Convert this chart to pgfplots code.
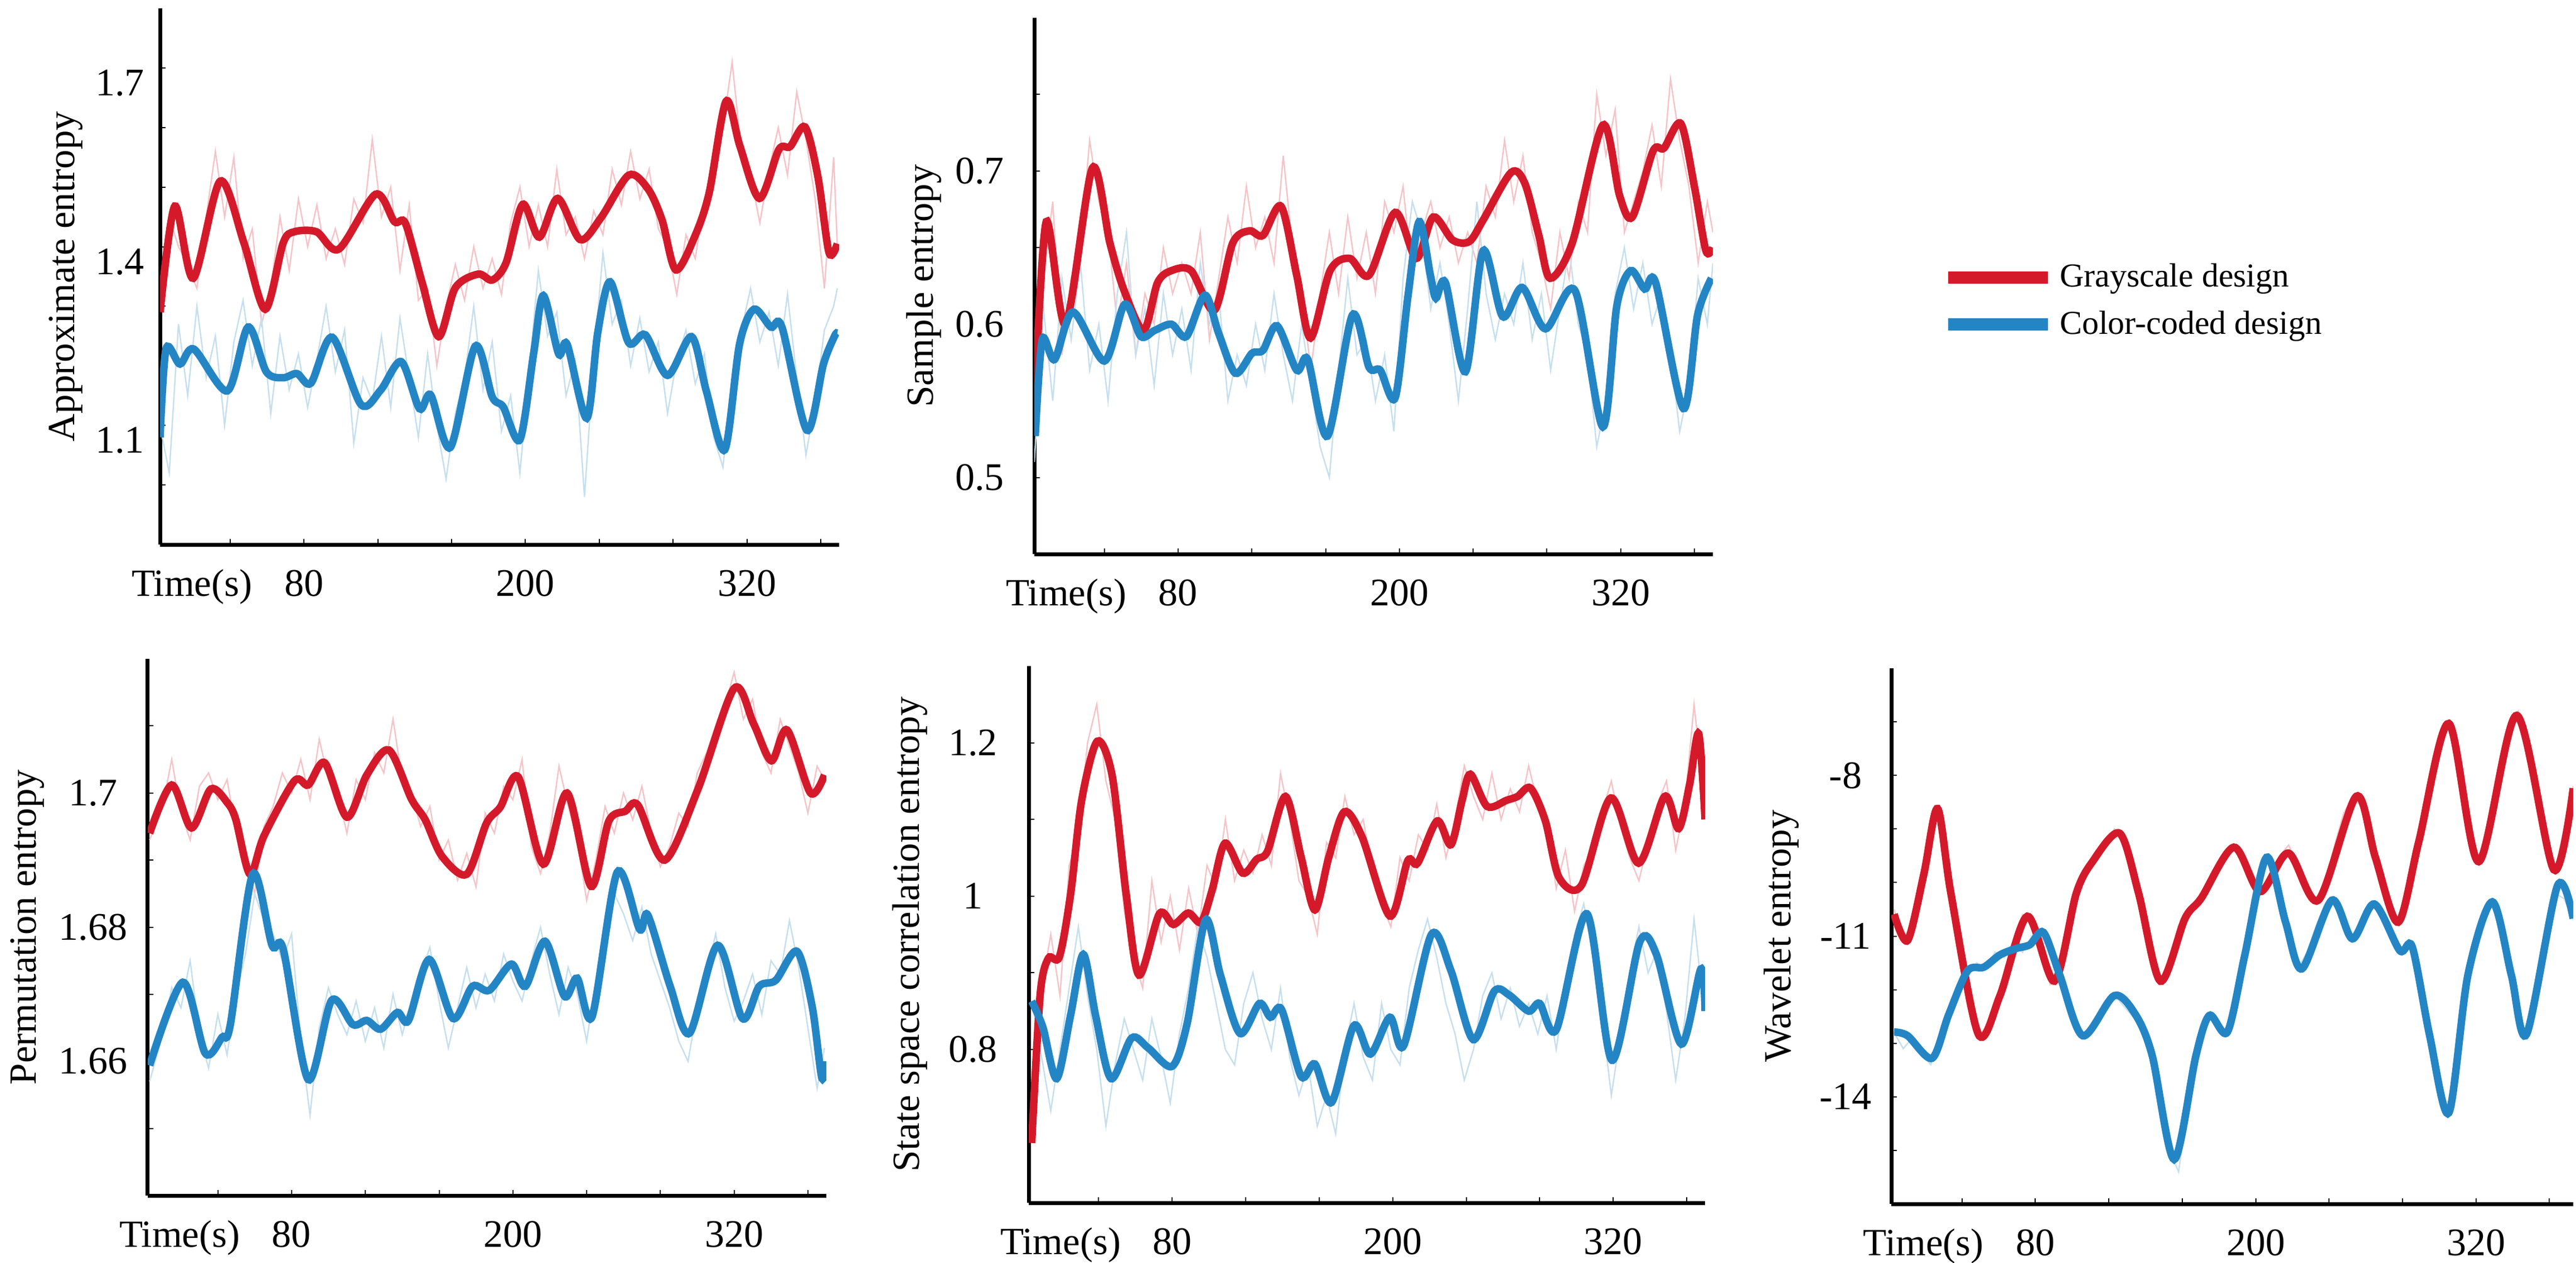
\documentclass[border=0pt]{standalone}
\usepackage{fontspec}
\setmainfont{Liberation Serif}
\usepackage{pgfplots}
\pgfplotsset{compat=1.18}

\definecolor{cred}{HTML}{D41A2A}
\definecolor{cblue}{HTML}{2485C5}
\definecolor{lred}{HTML}{F5C4C8}
\definecolor{lblue}{HTML}{C6DFEE}

\pgfplotsset{
 panel/.style={
   scale only axis,
   axis x line*=bottom, axis y line*=left,
   axis line style={line width=1.4pt},
   tick align=inside,
   major tick length=2pt, minor tick length=2pt,
   every tick/.style={black, line width=0.4pt},
   xtick={80,200,320},
   minor xtick={40,120,160,240,280,360},
   xmin=2, xmax=370,
   /pgf/number format/assume math mode=true,
   tick label style={font=\fontsize{14}{16}\selectfont},
   label style={font=\fontsize{13.8}{16}\selectfont},
   xticklabel style={anchor=base, yshift=-18.5pt},
   xlabel={Time(s)},
   xlabel style={at={(axis description cs:0.047,0)}, anchor=base, yshift=-18.5pt},
 },
 thinl/.style={line width=0.5pt, sharp plot, forget plot},
 thickl/.style={line width=2.7pt, smooth, forget plot},
}

\begin{document}
\begin{tikzpicture}
\path[use as bounding box] (0pt,0pt) rectangle (924pt,-453pt);

% ---------------- Panel 1: Approximate entropy
\begin{axis}[panel, at={(57.4pt,-195.4pt)}, anchor=south west,
  width=243.6pt, height=192.4pt,
  ymin=0.9, ymax=1.8,
  ytick={1.1,1.4,1.7}, minor ytick={1.0,1.2,1.3,1.5,1.6},
  yticklabel style={anchor=center, xshift=-14.4pt, yshift=-5.4pt},
  ylabel={Approximate entropy},
  ylabel style={at={(axis description cs:-0.139,0.5)}, anchor=center},
]
\addplot[thinl, lred] coordinates {(2,1.30) (7,1.45) (12,1.40) (17,1.37) (22,1.33) (27,1.45) (32,1.56) (37,1.45) (42,1.55) (47,1.38) (52,1.43) (57,1.27) (62,1.33) (67,1.45) (72,1.36) (77,1.48) (82,1.40) (87,1.47) (92,1.38) (97,1.43) (102,1.37) (107,1.48) (112,1.44) (117,1.58) (122,1.45) (127,1.50) (132,1.36) (137,1.47) (142,1.31) (147,1.33) (152,1.20) (157,1.30) (162,1.37) (167,1.31) (172,1.40) (177,1.33) (182,1.38) (187,1.32) (192,1.44) (197,1.50) (202,1.40) (207,1.47) (212,1.40) (217,1.53) (222,1.42) (227,1.45) (232,1.38) (237,1.46) (242,1.42) (247,1.53) (252,1.47) (257,1.56) (262,1.48) (267,1.53) (272,1.43) (277,1.40) (282,1.32) (287,1.42) (292,1.38) (297,1.48) (302,1.52) (307,1.60) (312,1.71) (317,1.56) (322,1.52) (327,1.44) (332,1.53) (337,1.60) (342,1.52) (347,1.66) (352,1.58) (357,1.48) (362,1.33) (367,1.55) (369,1.40)};
\addplot[thinl, lblue] coordinates {(2,1.10) (7,1.02) (12,1.27) (17,1.15) (22,1.30) (27,1.18) (32,1.25) (37,1.10) (42,1.24) (47,1.31) (52,1.20) (57,1.28) (62,1.12) (67,1.25) (72,1.16) (77,1.22) (82,1.13) (87,1.21) (92,1.30) (97,1.19) (102,1.26) (107,1.07) (112,1.18) (117,1.14) (122,1.25) (127,1.13) (132,1.28) (137,1.18) (142,1.08) (147,1.22) (152,1.10) (157,1.01) (162,1.12) (167,1.18) (172,1.30) (177,1.16) (182,1.24) (187,1.09) (192,1.15) (197,1.02) (202,1.19) (207,1.36) (212,1.25) (217,1.29) (222,1.15) (227,1.21) (232,0.98) (237,1.21) (242,1.39) (247,1.27) (252,1.31) (257,1.20) (262,1.28) (267,1.19) (272,1.24) (277,1.12) (282,1.21) (287,1.26) (292,1.17) (297,1.22) (302,1.08) (307,1.03) (312,1.17) (317,1.26) (322,1.33) (327,1.24) (332,1.29) (337,1.20) (342,1.32) (347,1.18) (352,1.05) (357,1.14) (362,1.26) (367,1.30) (369,1.33)};
\addplot[thickl, cred] coordinates {(2,1.29) (10,1.468) (20,1.347) (34.6,1.51) (47.5,1.406) (59,1.295) (68.7,1.406) (74.7,1.425) (86.8,1.425) (98.9,1.396) (118.8,1.488) (129,1.442) (135,1.439) (144,1.34) (153,1.249) (162,1.331) (174.4,1.354) (182,1.344) (189.5,1.373) (198.5,1.471) (207.5,1.416) (217.5,1.481) (229.6,1.412) (240.8,1.448) (255.9,1.52) (266.4,1.497) (274,1.445) (281.5,1.361) (292,1.419) (299.6,1.491) (308.7,1.644) (316.2,1.569) (326.8,1.481) (337.3,1.563) (343.4,1.568) (351.5,1.601) (358.5,1.517) (364.5,1.39) (369,1.405)};
\addplot[thickl, cblue] coordinates {(2,1.08) (5.3,1.229) (12.8,1.203) (20.4,1.228) (38.5,1.158) (49.7,1.265) (59.6,1.19) (68.7,1.18) (76.2,1.187) (83.8,1.171) (95.3,1.248) (110.9,1.135) (121.5,1.159) (132.7,1.207) (142.6,1.128) (148.7,1.151) (159.3,1.063) (172.8,1.233) (182,1.148) (188,1.131) (197,1.076) (204.5,1.222) (209.7,1.318) (218,1.22) (222.6,1.236) (233.2,1.112) (239.2,1.256) (245.9,1.341) (255.9,1.239) (265,1.252) (277,1.184) (290,1.249) (298,1.158) (308,1.059) (316,1.236) (323.8,1.295) (333,1.265) (339,1.265) (352.5,1.092) (361.5,1.203) (367.5,1.25) (369,1.255)};
\end{axis}

% ---------------- Panel 2: Sample entropy (with legend)
\begin{axis}[panel, at={(371pt,-198.8pt)}, anchor=south west,
  width=243.4pt, height=192.4pt,
  ymin=0.45, ymax=0.80,
  ytick={0.5,0.6,0.7}, minor ytick={0.55,0.65,0.75},
  yticklabel style={anchor=center, xshift=-19.6pt},
  ylabel={Sample entropy},
  ylabel style={at={(axis description cs:-0.163,0.5)}, anchor=center},
  legend image code/.code={\draw[#1, line width=4.4pt] (0pt,0pt) -- (35.8pt,0pt);},
  legend style={at={(axis description cs:1.337,0.472)}, anchor=west, draw=none, fill=none,
     inner sep=0pt, row sep=3pt, font=\fontsize{12}{13}\selectfont},
  legend cell align=left,
]
\addplot[thinl, lred] coordinates {(2,0.57) (7,0.63) (12,0.68) (17,0.58) (22,0.63) (27,0.65) (32,0.72) (37,0.68) (42,0.66) (47,0.60) (52,0.64) (57,0.58) (62,0.62) (67,0.60) (72,0.65) (77,0.62) (82,0.64) (87,0.62) (92,0.66) (97,0.59) (102,0.63) (107,0.67) (112,0.64) (117,0.69) (122,0.65) (127,0.67) (132,0.64) (137,0.71) (142,0.65) (147,0.62) (152,0.57) (157,0.62) (162,0.66) (167,0.62) (172,0.67) (177,0.63) (182,0.66) (187,0.62) (192,0.68) (197,0.66) (202,0.69) (207,0.63) (212,0.66) (217,0.68) (222,0.65) (227,0.67) (232,0.64) (237,0.66) (242,0.64) (247,0.69) (252,0.67) (257,0.72) (262,0.68) (267,0.71) (272,0.66) (277,0.64) (282,0.61) (287,0.66) (292,0.63) (297,0.68) (302,0.66) (307,0.75) (312,0.71) (317,0.74) (322,0.66) (327,0.68) (332,0.70) (337,0.73) (342,0.69) (347,0.76) (352,0.72) (357,0.69) (362,0.64) (367,0.68) (370,0.66)};
\addplot[thinl, lblue] coordinates {(2,0.51) (7,0.61) (12,0.55) (17,0.63) (22,0.59) (27,0.64) (32,0.57) (37,0.60) (42,0.55) (47,0.62) (52,0.66) (57,0.58) (62,0.61) (67,0.56) (72,0.62) (77,0.58) (82,0.61) (87,0.57) (92,0.64) (97,0.60) (102,0.62) (107,0.55) (112,0.58) (117,0.56) (122,0.60) (127,0.57) (132,0.62) (137,0.58) (142,0.55) (147,0.60) (152,0.56) (157,0.52) (162,0.50) (167,0.57) (172,0.63) (177,0.58) (182,0.59) (187,0.55) (192,0.58) (197,0.53) (202,0.63) (207,0.68) (212,0.66) (217,0.61) (222,0.64) (227,0.60) (232,0.55) (237,0.61) (242,0.68) (247,0.62) (252,0.59) (257,0.62) (262,0.60) (267,0.64) (272,0.59) (277,0.62) (282,0.57) (287,0.61) (292,0.65) (297,0.60) (302,0.58) (307,0.52) (312,0.55) (317,0.62) (322,0.65) (327,0.61) (332,0.64) (337,0.60) (342,0.62) (347,0.58) (352,0.53) (357,0.56) (362,0.63) (367,0.60) (370,0.64)};
\addplot[thickl, cred] coordinates {(2.5,0.555) (8.5,0.667) (19,0.600) (33.5,0.702) (43,0.653) (50.7,0.622) (61.3,0.596) (68.8,0.627) (76.4,0.635) (87,0.635) (99.6,0.609) (109.6,0.653) (118.6,0.661) (126,0.658) (135.8,0.677) (144.3,0.632) (151.8,0.591) (162.4,0.635) (173,0.643) (183.5,0.632) (197.7,0.673) (209.2,0.643) (218.3,0.670) (228.8,0.655) (237.9,0.654) (245.4,0.668) (260.5,0.699) (268,0.692) (275.6,0.658) (281.7,0.630) (293.7,0.653) (310.3,0.730) (319.4,0.684) (326.3,0.670) (337.5,0.713) (343.5,0.715) (352.6,0.731) (360.1,0.689) (366.2,0.648) (370,0.650)};
\addplot[thickl, cblue] coordinates {(2.5,0.527) (6.3,0.590) (13,0.577) (23,0.608) (40,0.576) (51,0.613) (59.8,0.592) (67.3,0.596) (76.4,0.600) (84.5,0.592) (94.5,0.619) (102,0.594) (111,0.568) (120,0.581) (126,0.583) (133.7,0.599) (144.3,0.570) (150.3,0.577) (161,0.527) (174.5,0.606) (183.5,0.572) (189.6,0.570) (197.7,0.552) (204.7,0.619) (210.7,0.667) (216.8,0.632) (219.8,0.617) (225,0.627) (235.8,0.569) (245.4,0.648) (256,0.605) (266.6,0.624) (279.2,0.597) (295.2,0.622) (310.3,0.533) (317.9,0.612) (325.4,0.635) (333,0.623) (339,0.627) (354,0.545) (361.7,0.606) (369.2,0.630)};
\addlegendimage{cred}
\addlegendentry{Grayscale design}
\addlegendimage{cblue}
\addlegendentry{Color-coded design}
\end{axis}

% ---------------- Panel 4: Permutation entropy
\begin{axis}[panel, at={(53pt,-429pt)}, anchor=south west,
  width=243.4pt, height=192.6pt,
  ymin=1.64, ymax=1.72,
  ytick={1.66,1.68,1.70}, minor ytick={1.65,1.67,1.69,1.71},
  yticklabel style={anchor=center, xshift=-19.6pt},
  ylabel={Permutation entropy},
  ylabel style={at={(axis description cs:-0.177,0.5)}, anchor=center},
]
\addplot[thinl, lred] coordinates {(3,1.693) (10,1.698) (15,1.705) (20,1.697) (25,1.693) (30,1.701) (35,1.703) (40,1.699) (45,1.702) (50,1.694) (55,1.690) (60,1.685) (65,1.695) (70,1.698) (75,1.703) (80,1.700) (85,1.705) (90,1.699) (95,1.708) (100,1.702) (105,1.700) (110,1.694) (115,1.702) (120,1.699) (125,1.706) (130,1.703) (135,1.711) (140,1.702) (145,1.700) (150,1.695) (155,1.698) (160,1.690) (165,1.693) (170,1.687) (175,1.691) (180,1.686) (185,1.697) (190,1.694) (195,1.701) (200,1.699) (205,1.705) (210,1.692) (215,1.688) (220,1.694) (225,1.704) (230,1.698) (235,1.693) (240,1.684) (245,1.690) (250,1.698) (255,1.694) (260,1.700) (265,1.696) (270,1.701) (275,1.694) (280,1.689) (285,1.692) (290,1.697) (295,1.695) (300,1.703) (305,1.706) (310,1.710) (315,1.713) (320,1.718) (325,1.711) (330,1.714) (335,1.706) (340,1.703) (345,1.711) (350,1.707) (355,1.703) (360,1.697) (365,1.704) (369,1.702)};
\addplot[thinl, lblue] coordinates {(3,1.657) (10,1.664) (15,1.671) (20,1.668) (25,1.675) (30,1.664) (35,1.659) (40,1.667) (45,1.661) (50,1.670) (55,1.676) (60,1.685) (65,1.681) (70,1.679) (75,1.675) (80,1.679) (85,1.663) (90,1.652) (95,1.665) (100,1.671) (105,1.667) (110,1.664) (115,1.669) (120,1.663) (125,1.668) (130,1.662) (135,1.670) (140,1.664) (145,1.669) (150,1.673) (155,1.677) (160,1.669) (165,1.662) (170,1.668) (175,1.674) (180,1.668) (185,1.673) (190,1.669) (195,1.676) (200,1.672) (205,1.669) (210,1.675) (215,1.680) (220,1.673) (225,1.667) (230,1.674) (235,1.670) (240,1.663) (245,1.672) (250,1.680) (255,1.685) (260,1.682) (265,1.678) (270,1.683) (275,1.676) (280,1.672) (285,1.668) (290,1.663) (295,1.660) (300,1.668) (305,1.673) (310,1.679) (315,1.671) (320,1.666) (325,1.669) (330,1.673) (335,1.667) (340,1.675) (345,1.673) (350,1.681) (355,1.674) (360,1.665) (365,1.656) (369,1.662)};
\addplot[thickl, cred] coordinates {(3,1.694) (15,1.7012) (25.7,1.6948) (36.2,1.7006) (45.3,1.6985) (49.8,1.696) (57.4,1.6879) (65,1.6936) (81.5,1.7018) (89,1.7012) (98,1.7045) (110,1.6964) (120.8,1.7027) (132.8,1.7064) (145,1.6991) (152.5,1.696) (161.5,1.6906) (175,1.6879) (185.7,1.6955) (193.2,1.6979) (202.9,1.7024) (216.5,1.6894) (229.4,1.70) (242.4,1.6861) (252,1.6958) (261,1.6973) (267.8,1.6982) (282.3,1.69) (300.4,1.7006) (320,1.7156) (330.6,1.7103) (340.2,1.7048) (348.7,1.7094) (361.4,1.70) (369,1.7027)};
\addplot[thickl, cblue] coordinates {(3,1.6594) (21,1.6718) (33.2,1.6612) (42.3,1.6636) (46.8,1.6655) (58.9,1.6879) (69.4,1.6773) (75.5,1.6767) (89,1.6573) (101.7,1.6691) (113.2,1.6655) (120.8,1.6661) (128.3,1.6648) (137.4,1.6673) (143.4,1.6661) (154.6,1.6752) (167.5,1.6664) (178.1,1.6712) (187.2,1.6706) (199.2,1.6745) (206.8,1.6712) (217.4,1.6779) (228,1.6697) (234.9,1.6724) (243,1.6667) (256.6,1.6882) (268.7,1.6797) (273.2,1.6818) (285.3,1.6712) (295.8,1.6642) (311,1.6773) (324.5,1.6664) (333.6,1.6712) (342.6,1.6721) (354.1,1.6764) (362.3,1.6682) (367.5,1.6576) (370,1.660)};
\end{axis}

% ---------------- Panel 5: State space correlation entropy
\begin{axis}[panel, at={(369pt,-431.6pt)}, anchor=south west,
  width=242.6pt, height=192.6pt,
  ymin=0.6, ymax=1.3,
  ytick={0.8,1.0,1.2}, minor ytick={0.7,0.9,1.1},
  yticklabel style={anchor=center, xshift=-20pt},
  ylabel={State space correlation entropy},
  ylabel style={at={(axis description cs:-0.176,0.5)}, anchor=center},
]
\addplot[thinl, lred] coordinates {(4,0.70) (9,0.88) (14,0.95) (19,0.87) (24,1.04) (29,1.08) (34,1.20) (39,1.25) (44,1.15) (49,1.10) (54,0.98) (59,0.92) (64,0.88) (69,1.02) (74,0.94) (79,1.00) (84,0.93) (89,1.01) (94,0.95) (99,1.04) (104,1.01) (109,1.10) (114,1.02) (119,1.06) (124,1.03) (129,1.08) (134,1.04) (139,1.16) (144,1.10) (149,1.02) (154,1.00) (159,0.95) (164,1.07) (169,1.05) (174,1.13) (179,1.08) (184,1.10) (189,1.03) (194,0.99) (199,0.96) (204,1.05) (209,1.02) (214,1.08) (219,1.06) (224,1.12) (229,1.05) (234,1.10) (239,1.17) (244,1.13) (249,1.10) (254,1.16) (259,1.10) (264,1.14) (269,1.11) (274,1.17) (279,1.12) (284,1.09) (289,1.01) (294,1.06) (299,0.98) (304,1.04) (309,1.06) (314,1.11) (319,1.15) (324,1.09) (329,1.05) (334,1.02) (339,1.07) (344,1.12) (349,1.15) (354,1.06) (359,1.12) (364,1.25) (369,1.14)};
\addplot[thinl, lblue] coordinates {(4,0.86) (9,0.79) (14,0.72) (19,0.80) (24,0.88) (29,0.96) (34,0.87) (39,0.80) (44,0.70) (49,0.78) (54,0.84) (59,0.80) (64,0.76) (69,0.84) (74,0.79) (79,0.73) (84,0.82) (89,0.88) (94,0.96) (99,0.92) (104,0.86) (109,0.80) (114,0.78) (119,0.86) (124,0.90) (129,0.84) (134,0.80) (139,0.88) (144,0.79) (149,0.74) (154,0.78) (159,0.70) (164,0.74) (169,0.69) (174,0.80) (179,0.86) (184,0.79) (189,0.76) (194,0.86) (199,0.80) (204,0.78) (209,0.88) (214,0.93) (219,0.97) (224,0.92) (229,0.86) (234,0.82) (239,0.76) (244,0.80) (249,0.87) (254,0.90) (259,0.84) (264,0.88) (269,0.83) (274,0.86) (279,0.82) (284,0.87) (289,0.80) (294,0.88) (299,0.95) (304,0.99) (309,0.92) (314,0.84) (319,0.74) (324,0.82) (329,0.90) (334,0.96) (339,0.90) (344,0.93) (349,0.85) (354,0.76) (359,0.84) (364,0.97) (369,0.86)};
\addplot[thickl, cred] coordinates {(3.6,0.678) (8.2,0.871) (12.7,0.919) (18.7,0.921) (24.8,1.003) (30.8,1.125) (39.3,1.202) (47.4,1.157) (55,1.003) (62,0.897) (73.1,0.977) (80.7,0.963) (88.8,0.978) (95.8,0.966) (101.8,1.008) (108.8,1.069) (118.4,1.030) (126,1.048) (132,1.059) (141.7,1.130) (150.2,1.051) (157.7,0.982) (165.3,1.051) (173.7,1.110) (183.4,1.077) (198.5,0.974) (208.2,1.046) (213.6,1.043) (224.2,1.098) (231.7,1.067) (237.8,1.125) (242.3,1.159) (251.4,1.117) (262,1.125) (268,1.130) (275,1.141) (283.1,1.098) (290.6,1.024) (302.7,1.014) (318.7,1.128) (333.8,1.043) (348,1.130) (355.6,1.088) (361.6,1.146) (366.5,1.212) (370,1.10)};
\addplot[thickl, cblue] coordinates {(3.6,0.863) (9.7,0.829) (17.2,0.762) (24.8,0.845) (31.7,0.924) (38.4,0.844) (46.8,0.762) (58,0.815) (67,0.802) (80,0.778) (88.2,0.834) (98.2,0.969) (106.3,0.897) (116.9,0.821) (127.5,0.860) (133.5,0.842) (139.6,0.852) (150.2,0.765) (157.7,0.781) (166.8,0.731) (178.9,0.831) (187.9,0.794) (198.5,0.842) (206,0.805) (221.1,0.950) (231.7,0.903) (243.8,0.813) (255.3,0.876) (263.4,0.871) (274,0.850) (280,0.860) (289.1,0.826) (305.7,0.977) (319.3,0.786) (334.4,0.940) (343.5,0.924) (357.1,0.807) (367.7,0.905) (370,0.85)};
\end{axis}

% ---------------- Panel 6: Wavelet entropy
\begin{axis}[panel, at={(678.4pt,-432pt)}, anchor=south west,
  width=244.6pt, height=192.2pt,
  xmin=1.5, xmax=373,
  ymin=-16, ymax=-6,
  ytick={-14,-11,-8}, minor ytick={-15,-13,-12,-10,-9,-7},
  yticklabel style={anchor=center, xshift=-16.4pt},
  ylabel={Wavelet entropy},
  ylabel style={at={(axis description cs:-0.161,0.5)}, anchor=center},
]
\addplot[thinl, lred] coordinates {(3,-10.5) (8,-11.1) (13,-10.9) (18,-10.0) (23,-9.0) (28,-8.6) (33,-9.9) (38,-11.2) (43,-12.3) (48,-12.9) (53,-12.7) (58,-12.3) (63,-11.8) (68,-11.1) (73,-10.6) (78,-10.8) (83,-11.3) (88,-11.9) (93,-11.6) (98,-10.6) (103,-10.0) (108,-9.7) (113,-9.4) (118,-9.3) (123,-9.0) (128,-9.2) (133,-9.8) (138,-10.6) (143,-11.4) (148,-11.9) (153,-11.5) (158,-10.8) (163,-10.6) (168,-10.3) (173,-10.1) (178,-9.8) (183,-9.5) (188,-9.3) (193,-9.5) (198,-9.9) (203,-10.2) (208,-9.9) (213,-9.5) (218,-9.3) (223,-9.7) (228,-10.1) (233,-10.4) (238,-10.0) (243,-9.3) (248,-8.7) (253,-8.4) (258,-8.6) (263,-9.3) (268,-9.9) (273,-10.5) (278,-10.8) (283,-10.1) (288,-9.3) (293,-8.3) (298,-7.5) (303,-7.1) (308,-7.2) (313,-8.3) (318,-9.3) (323,-9.6) (328,-9.0) (333,-7.9) (338,-7.1) (343,-6.8) (348,-7.3) (353,-8.3) (358,-9.3) (363,-9.8) (368,-9.0) (373,-8.2)};
\addplot[thinl, lblue] coordinates {(3,-12.8) (8,-13.1) (13,-12.9) (18,-13.2) (23,-13.4) (28,-12.9) (33,-12.5) (38,-12.0) (43,-11.7) (48,-11.5) (53,-11.6) (58,-11.3) (63,-11.4) (68,-11.1) (73,-11.3) (78,-11.0) (83,-10.9) (88,-11.3) (93,-11.8) (98,-12.4) (103,-12.8) (108,-12.9) (113,-12.5) (118,-12.2) (123,-12.1) (128,-12.3) (133,-12.5) (138,-12.6) (143,-13.2) (148,-14.2) (153,-15.0) (158,-15.4) (163,-14.2) (168,-13.2) (173,-12.5) (178,-12.5) (183,-12.8) (188,-12.6) (193,-11.5) (198,-10.3) (203,-9.6) (208,-9.6) (213,-10.3) (218,-11.0) (223,-11.6) (228,-11.3) (233,-10.8) (238,-10.4) (243,-10.4) (248,-10.8) (253,-11.0) (258,-10.8) (263,-10.4) (268,-10.5) (273,-10.9) (278,-11.3) (283,-11.2) (288,-11.4) (293,-12.5) (298,-13.6) (303,-14.3) (308,-14.2) (313,-12.4) (318,-11.2) (323,-10.6) (328,-10.4) (333,-10.8) (338,-11.6) (343,-12.4) (348,-12.9) (353,-12.2) (358,-11.0) (363,-10.2) (368,-10.3) (373,-10.7)};
\addplot[thickl, cred] coordinates {(3,-10.59) (10.4,-11.08) (19.3,-9.83) (26.7,-8.62) (34,-10.21) (48.9,-12.83) (60.7,-12.11) (75.6,-10.63) (90.4,-11.84) (102.2,-10.21) (111.1,-9.61) (125.9,-9.08) (136.3,-10.21) (148.1,-11.84) (161.5,-10.67) (170.4,-10.29) (188.1,-9.34) (202.4,-10.17) (217.8,-9.45) (234.1,-10.33) (254.8,-8.39) (265.2,-9.53) (277.6,-10.74) (288.9,-9.23) (305.2,-7.03) (321.5,-9.61) (342.2,-6.88) (362.4,-9.76) (373,-8.24)};
\addplot[thickl, cblue] coordinates {(3,-12.79) (10.4,-12.86) (23.7,-13.28) (32.6,-12.48) (43,-11.65) (51.9,-11.58) (60.7,-11.35) (69.6,-11.23) (77,-11.16) (84.4,-10.93) (93.3,-11.73) (105.8,-12.86) (123,-12.11) (134.8,-12.48) (143.7,-13.24) (155.6,-15.17) (167.4,-13.24) (174.8,-12.48) (184.6,-12.79) (194.1,-11.35) (205.9,-9.53) (216.3,-10.74) (225.2,-11.61) (241.5,-10.33) (252.7,-11.05) (264.6,-10.40) (278.5,-11.27) (285.3,-11.20) (294.8,-12.86) (305.2,-14.30) (315.6,-11.73) (328.9,-10.36) (339.3,-11.73) (347.6,-12.83) (364.4,-10.06) (373,-10.67)};
\end{axis}
\end{tikzpicture}
\end{document}
